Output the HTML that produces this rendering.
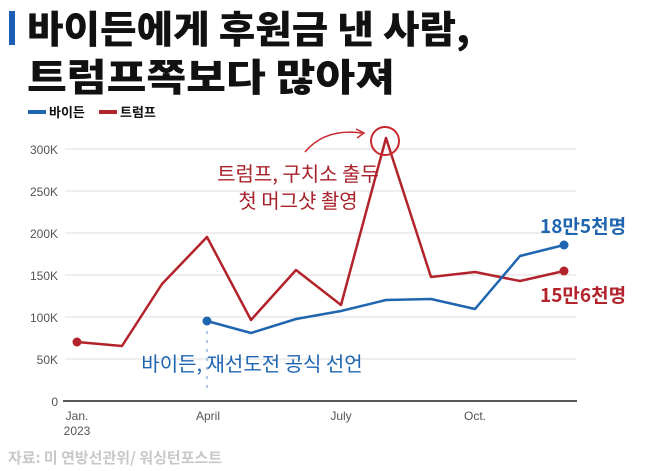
<!DOCTYPE html>
<html><head><meta charset="utf-8"><style>
body{margin:0;background:#fff;width:658px;height:471px;overflow:hidden;font-family:"Liberation Sans","Noto Sans CJK KR",sans-serif}
</style></head><body>
<svg width="658" height="471" xmlns="http://www.w3.org/2000/svg" style="position:absolute;left:0;top:0">
<rect x="9" y="11" width="6" height="34" fill="#1a5fb4"/>
<text x="27" y="43" font-size="38" font-weight="900" fill="#111" font-family="Noto Sans CJK KR,sans-serif" textLength="443" lengthAdjust="spacingAndGlyphs">바이든에게 후원금 낸 사람,</text>
<text x="27" y="91" font-size="38" font-weight="900" fill="#111" font-family="Noto Sans CJK KR,sans-serif" textLength="368" lengthAdjust="spacingAndGlyphs">트럼프쪽보다 많아져</text>
<line x1="28" y1="112" x2="46" y2="112" stroke="#1f65b0" stroke-width="4"/>
<text x="49" y="117" font-size="13" font-weight="bold" fill="#111" font-family="Noto Sans CJK KR,sans-serif">바이든</text>
<line x1="99" y1="112" x2="117" y2="112" stroke="#b3232b" stroke-width="4"/>
<text x="120" y="117" font-size="13" font-weight="bold" fill="#111" font-family="Noto Sans CJK KR,sans-serif">트럼프</text>
<g stroke="#ddd" stroke-width="1">
<line x1="65" y1="149" x2="576" y2="149"/><line x1="65" y1="191" x2="576" y2="191"/><line x1="65" y1="233" x2="576" y2="233"/><line x1="65" y1="275" x2="576" y2="275"/><line x1="65" y1="317" x2="576" y2="317"/><line x1="65" y1="359" x2="576" y2="359"/>
</g>
<line x1="63" y1="401" x2="577" y2="401" stroke="#222" stroke-width="1.5"/>
<g font-size="12" fill="#555" text-anchor="end">
<text x="58" y="154">300K</text><text x="58" y="196">250K</text><text x="58" y="238">200K</text><text x="58" y="280">150K</text><text x="58" y="322">100K</text><text x="58" y="364">50K</text><text x="58" y="406">0</text>
</g>
<g font-size="12" fill="#555" text-anchor="middle">
<text x="77" y="420">Jan.</text><text x="77" y="435">2023</text><text x="208" y="420">April</text><text x="341" y="420">July</text><text x="475" y="420">Oct.</text>
</g>
<line x1="207" y1="331" x2="207" y2="392" stroke="#6a8fc0" stroke-dasharray="3,6" stroke-width="1"/>
<polyline fill="none" stroke="#b3232b" stroke-width="2.5" stroke-linejoin="round" points="77,342 122,346 162,284 207,237 251,320 296,270 341,305 386,138 431,277 475,272 520,281 564,271"/>
<polyline fill="none" stroke="#1f65b0" stroke-width="2.5" stroke-linejoin="round" points="207,321 251,333 296,319 341,311 386,300 431,299 475,309 520,256 564,245"/>
<circle cx="77" cy="342" r="4.5" fill="#b3232b"/><circle cx="564" cy="271" r="4.5" fill="#b3232b"/>
<circle cx="207" cy="321" r="4.5" fill="#1f65b0"/><circle cx="564" cy="245" r="4.5" fill="#1f65b0"/>
<circle cx="385" cy="141" r="14" fill="none" stroke="#c8282e" stroke-width="2"/>
<path d="M305 152 Q325 128 362 133" fill="none" stroke="#c8282e" stroke-width="1.5"/>
<path d="M356 129 L364 133 L357 138" fill="none" stroke="#c8282e" stroke-width="1.5"/>
<g font-size="20" fill="#a8222b" text-anchor="middle" font-family="Noto Sans CJK KR,sans-serif">
<text x="298" y="181">트럼프, 구치소 출두</text><text x="298" y="208">첫 머그샷 촬영</text>
</g>
<text x="252" y="371" font-size="20" fill="#1f65b0" text-anchor="middle" font-family="Noto Sans CJK KR,sans-serif">바이든, 재선도전 공식 선언</text>
<text x="540" y="233" font-size="19" font-weight="bold" fill="#1f65b0" font-family="Noto Sans CJK KR,sans-serif">18만5천명</text>
<text x="540" y="302" font-size="19" font-weight="bold" fill="#b3232b" font-family="Noto Sans CJK KR,sans-serif">15만6천명</text>
<text x="8" y="463" font-size="15" font-weight="bold" fill="#c8c8c8" font-family="Noto Sans CJK KR,sans-serif">자료: 미 연방선관위/ 워싱턴포스트</text>
</svg>
</body></html>
